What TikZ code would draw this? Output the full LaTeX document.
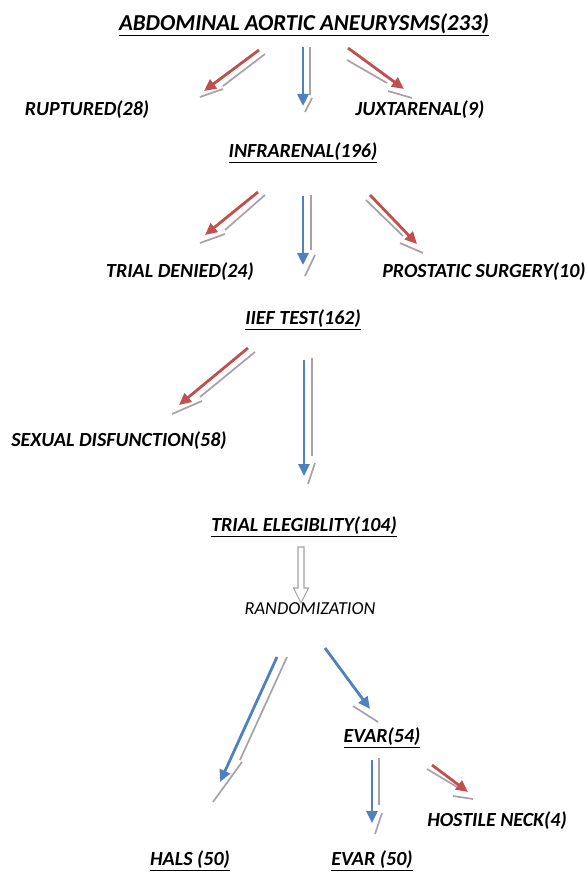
\documentclass[tikz,border=0pt]{standalone}
\usepackage{fontspec}
\setmainfont{Carlito}
\usetikzlibrary{arrows.meta}
\definecolor{redA}{RGB}{192,80,77}
\definecolor{blueA}{RGB}{79,129,189}
\definecolor{shadowG}{RGB}{168,160,165}
\tikzset{
  lbl/.style={font=\fontsize{20}{24}\selectfont\bfseries\itshape, inner sep=0pt, anchor=center},
  ttl/.style={font=\fontsize{22.8}{27}\selectfont\bfseries\itshape, inner sep=0pt, anchor=center},
  plain/.style={font=\fontsize{18.3}{22}\selectfont\itshape, inner sep=0pt, anchor=center},
  redarr/.style={draw=redA, line width=2.8pt, -{Triangle[length=12pt,width=11pt]}},
  bluearr/.style={draw=blueA, line width=2.8pt, -{Triangle[length=12pt,width=11pt]}},
  shd/.style={draw=shadowG, line width=1.7pt},
}
\begin{document}
\begin{tikzpicture}[x=1pt,y=-1pt]
\useasboundingbox (0,0) rectangle (588,872);
% labels
\node[ttl] (aaa) at (304,25) {\underline{ABDOMINAL AORTIC ANEURYSMS(233)}};
\node[lbl] (rup) at (87,110) {RUPTURED(28)};
\node[lbl] (jux) at (420,110) {JUXTARENAL(9)};
\node[lbl] (inf) at (303,153) {\underline{INFRARENAL(196)}};
\node[lbl] (den) at (180,272) {TRIAL DENIED(24)};
\node[lbl] (pro) at (484,272) {PROSTATIC SURGERY(10)};
\node[lbl] (iief) at (303,320) {\underline{IIEF TEST(162)}};
\node[lbl] (sex) at (119,441) {SEXUAL DISFUNCTION(58)};
\node[lbl] (eleg) at (304,527) {\underline{TRIAL ELEGIBLITY(104)}};
\node[plain] (rand) at (310,609) {RANDOMIZATION};
\node[lbl] (evar54) at (382,738) {\underline{EVAR(54)}};
\node[lbl] (neck) at (497,821) {HOSTILE NECK(4)};
\node[lbl] (hals) at (190,861) {\underline{HALS (50)}};
\node[lbl] (evar50) at (372,861) {\underline{EVAR (50)}};

% arrow 1: to ruptured
\coordinate (a1s) at (259,50); \coordinate (a1e) at (204,91);
\draw[redarr] (a1s) -- (a1e);
\draw[shd] (265,54) -- (223,86);
\draw[shd] (200,97) -- (223,89);
% arrow 2: down to infrarenal
\coordinate (a2s) at (303,47); \coordinate (a2e) at (303,106);
\draw[bluearr] (a2s) -- (a2e);
\draw[shd] (310,47) -- (310,95);
\draw[shd] (305,112) -- (312,98);
% arrow 3: to juxtarenal
\coordinate (a3s) at (348,48); \coordinate (a3e) at (404,89);
\draw[redarr] (a3s) -- (a3e);
\draw[shd] (347,60) -- (387,83);
\draw[shd] (388,91) -- (412,98);

% arrow 4: to trial denied
\coordinate (a4s) at (258,192); \coordinate (a4e) at (205,235);
\draw[redarr] (a4s) -- (a4e);
\draw[shd] (265,195) -- (225,230);
\draw[shd] (200,243) -- (225,234);
% arrow 5: down to IIEF
\coordinate (a5s) at (303,196); \coordinate (a5e) at (303,265);
\draw[bluearr] (a5s) -- (a5e);
\draw[shd] (311,195) -- (311,250);
\draw[shd] (305,276) -- (315,255);
% arrow 6: to prostatic
\coordinate (a6s) at (370,195); \coordinate (a6e) at (417,244);
\draw[redarr] (a6s) -- (a6e);
\draw[shd] (366,200) -- (403,236);
\draw[shd] (400,243) -- (423,253);

% arrow 7: to sexual disfunction
\coordinate (a7s) at (248,348); \coordinate (a7e) at (179,405);
\draw[redarr] (a7s) -- (a7e);
\draw[shd] (255,352) -- (200,397);
\draw[shd] (172,414) -- (202,401);
% arrow 8: down to trial eligibility
\coordinate (a8s) at (304,360); \coordinate (a8e) at (304,476);
\draw[bluearr] (a8s) -- (a8e);
\draw[shd] (312,358) -- (312,456);
\draw[shd] (308,484) -- (315,463);

% arrow 9: hollow arrow to randomization
\draw[draw=shadowG, line width=1.1pt, fill=white]
  (298,547) -- (304,547) -- (304,588) -- (308.5,588) -- (301,603) -- (293.5,588) -- (298,588) -- cycle;

% arrow 10: to HALS
\coordinate (a10s) at (277,657); \coordinate (a10e) at (220,782);
\draw[bluearr] (a10s) -- (a10e);
\draw[shd] (287,657) -- (240,760);
\draw[shd] (242,762) -- (213,802);
% arrow 11: to EVAR(54)
\coordinate (a11s) at (325,648); \coordinate (a11e) at (370,709);
\draw[bluearr] (a11s) -- (a11e);
\draw[shd] (353,706) -- (378,722);
% arrow 12: down to EVAR(50)
\coordinate (a12s) at (372,760); \coordinate (a12e) at (372,823);
\draw[bluearr] (a12s) -- (a12e);
\draw[shd] (379,758) -- (379,805);
\draw[shd] (375,834) -- (382,813);
% arrow 13: to hostile neck
\coordinate (a13s) at (432,765); \coordinate (a13e) at (468,792);
\draw[redarr] (a13s) -- (a13e);
\draw[shd] (427,769) -- (457,787);
\draw[shd] (453,796) -- (473,799);
\end{tikzpicture}
\end{document}
